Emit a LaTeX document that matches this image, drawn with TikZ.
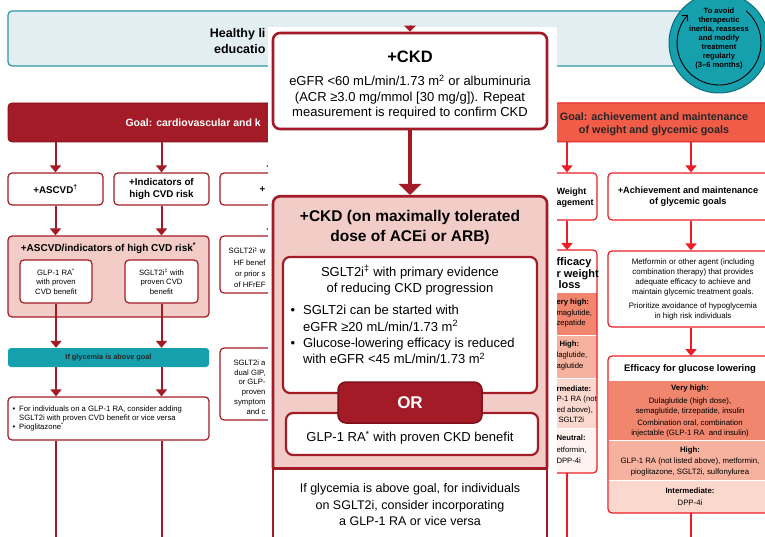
\documentclass[tikz,border=0pt]{standalone}
\usepackage{fontspec}
\setmainfont{Liberation Sans}
\usepackage{xcolor}
\usepackage{tikz}
\usetikzlibrary{arrows.meta}

\definecolor{adared}{RGB}{163,27,38}
\definecolor{adadeep}{RGB}{125,16,26}
\definecolor{adapink}{RGB}{242,205,199}
\definecolor{adateal}{RGB}{22,160,174}
\definecolor{adatealdark}{RGB}{12,110,122}
\definecolor{adaline}{RGB}{45,150,170}
\definecolor{adasky}{RGB}{226,238,241}
\definecolor{adacoral}{RGB}{240,92,72}
\definecolor{adascarlet}{RGB}{234,30,36}
\definecolor{effvhigh}{RGB}{240,134,110}
\definecolor{effhigh}{RGB}{246,178,158}
\definecolor{effmid}{RGB}{251,216,205}
\definecolor{effneutral}{RGB}{254,243,239}
\newcommand{\ptsize}[2]{\fontsize{#1}{#2}\selectfont}

\begin{document}
\begin{tikzpicture}[x=1pt,y=-1pt,
	backbox/.style={draw=adared, line width=1.2pt, rounded corners=4pt, fill=white, inner sep=0pt, align=center},
	pinkbox/.style={backbox, fill=adapink},
	scarletbox/.style={draw=adascarlet, line width=1.2pt, rounded corners=4pt, fill=white, inner sep=0pt, align=center},
	layer/.style={draw=white, line width=1pt, inner sep=0pt, outer sep=0pt},
	ckdbox/.style={draw=adared, line width=2.6pt, rounded corners=7pt, fill=white, inner sep=0pt},
	backarrow/.style={draw=adared, line width=2pt, -{Triangle[length=7pt,width=11pt]}},
	scarletarrow/.style={draw=adascarlet, line width=1.8pt, -{Triangle[length=7pt,width=11pt]}},
	ckdarrow/.style={draw=adared, line width=3.4pt, -{Triangle[length=11pt,width=22pt]}}]
	\path[use as bounding box, clip] (0,0) rectangle (765,537);
	\fill[white] (0,0) rectangle (765,537);

	\node[draw=adaline, line width=1.2pt, fill=adasky, rounded corners=4pt, minimum width=682, minimum height=55, inner sep=0pt] (lifestyle) at (349,38.5) {};
	\node[anchor=east, align=right, font=\ptsize{12.5}{16}\bfseries] (lifestyletxt) at (269,41.5) {Healthy li\\educatio};
	\node[circle, fill=adateal, draw=adatealdark, line width=1pt, minimum size=100, inner sep=0pt] (reassess) at (719,43) {};
	\draw[line width=0.9pt, -{Straight Barb[length=4pt,width=8pt]}] (reassess.center) ++(-50:42) arc[start angle=-50, end angle=222, radius=42];
	\node[align=center, font=\ptsize{7.6}{9}\bfseries] (reassesstxt) at (719,39) {To avoid\\therapeutic\\inertia, reassess\\and modify\\treatment\\regularly\\(3--6 months)};

	\node[fill=adared, draw=adadeep, line width=0.8pt, rounded corners=4pt, minimum width=292, minimum height=39, inner sep=0pt] (goalcv) at (154,122.5) {};
	\node[anchor=west, text=white, font=\ptsize{10.5}{12}\bfseries] (goalcvtxt) at (122,122.5) {Goal: cardiovascular and k};
	\node[backbox, minimum width=95, minimum height=32, font=\ptsize{9.8}{12}\bfseries] (ascvd) at (55.5,189) {+ASCVD\textsuperscript{†}};
	\node[backbox, minimum width=95, minimum height=32, font=\ptsize{9.8}{12}\bfseries] (cvdrisk) at (161.5,189) {+Indicators of\\high CVD risk};
	\node[backbox, minimum width=90, minimum height=32] (hfrow) at (265,189) {};
	\node[anchor=east, font=\ptsize{9.8}{12}\bfseries] (hfrowtxt) at (269,190) {+};
	\coordinate (hfcol) at (272,0);
	\draw[backarrow] (ascvd |- goalcv.south) -- (ascvd);
	\draw[backarrow] (cvdrisk |- goalcv.south) -- (cvdrisk);
	\draw[backarrow] (hfcol |- goalcv.south) -- (hfcol |- hfrow.north);

	\node[pinkbox, minimum width=201, minimum height=81] (ascvdrisk) at (108.5,276.5) {};
	\node[font=\ptsize{10}{12}\bfseries] (ascvdrisktxt) at (108.5,248) {+ASCVD/indicators of high CVD risk\textsuperscript{*}};
	\node[backbox, minimum width=72, minimum height=43, font=\ptsize{7.7}{9.5}] (glpcvd) at (56,281.5) {GLP-1 RA\textsuperscript{*}\\with proven\\CVD benefit};
	\node[backbox, minimum width=73, minimum height=43, font=\ptsize{7.7}{9.5}] (sgltcvd) at (161.5,281.5) {SGLT2i\textsuperscript{‡} with\\proven CVD\\benefit};
	\draw[backarrow] (ascvd) -- (ascvd |- ascvdrisk.north);
	\draw[backarrow] (cvdrisk) -- (cvdrisk |- ascvdrisk.north);
	\node[backbox, minimum width=90, minimum height=57] (hfbox) at (265,264.5) {};
	\node[anchor=east, align=right, font=\ptsize{7.7}{11.3}] (hfboxtxt) at (269,267.5) {SGLT2i\textsuperscript{‡} w\\HF benef\\or prior s\\of HFrEF};
	\draw[backarrow] (hfcol |- hfrow.south) -- (hfcol |- hfbox.north);

	\node[fill=adateal, rounded corners=3pt, inner sep=0pt, minimum width=201, minimum height=19, font=\ptsize{7.3}{8}\bfseries, text=black!85] (glycabove) at (108.5,357.5) {If glycemia is above goal};
	\draw[backarrow] (glpcvd) -- (glpcvd |- glycabove.north);
	\draw[backarrow] (sgltcvd) -- (sgltcvd |- glycabove.north);
	\node[backbox, minimum width=90, minimum height=72] (gipbox) at (265,384) {};
	\node[anchor=east, align=right, font=\ptsize{7.7}{9.8}] (gipboxtxt) at (269,387) {SGLT2i a\\dual GIP,\\or GLP-\\proven\\symptom\\and c};

	\node[backbox, minimum width=201, minimum height=43] (addon) at (108.5,418.5) {};
	\node[anchor=west, align=left, font=\ptsize{7.7}{9.2}] (addontxt) at (9,418.5) {\textbullet\hspace{4pt}For individuals on a GLP-1 RA, consider adding\\\hphantom{\textbullet\hspace{4pt}}SGLT2i with proven CVD benefit or vice versa\\\textbullet\hspace{4pt}Pioglitazone\textsuperscript{*}};
	\draw[backarrow] (glpcvd |- glycabove.south) -- (glpcvd |- addon.north);
	\draw[backarrow] (sgltcvd |- glycabove.south) -- (sgltcvd |- addon.north);
	\coordinate (pageend) at (0,545);
	\draw[adared, line width=2pt] (glpcvd |- addon.south) -- (glpcvd |- pageend);
	\draw[adared, line width=2pt] (sgltcvd |- addon.south) -- (sgltcvd |- pageend);

	\node[fill=adacoral, draw=adascarlet, line width=1pt, rounded corners=3pt, minimum width=230, minimum height=39, inner sep=0pt] (goalgly) at (670,122.5) {};
	\node[align=center, font=\ptsize{10.8}{13}\bfseries, text=black!85] (goalglytxt) at (654,124) {Goal: achievement and maintenance\\of weight and glycemic goals};
	\coordinate (weightcol) at (567,0);
	\coordinate (glycol) at (691,0);
	\node[scarletbox, minimum width=62, minimum height=47] (weightmgmt) at (566,196.5) {};
	\node[anchor=west, align=left, font=\ptsize{9}{11}\bfseries] (weightmgmttxt) at (553,197.5) {Weight\\agement};
	\node[scarletbox, minimum width=170, minimum height=47] (glycgoals) at (693,196.5) {};
	\node[align=center, font=\ptsize{9.2}{11.5}\bfseries] (glycgoalstxt) at (688,196.5) {+Achievement and maintenance\\of glycemic goals};
	\draw[scarletarrow] (weightcol |- goalgly.south) -- (weightcol |- weightmgmt.north);
	\draw[scarletarrow] (glycol |- goalgly.south) -- (glycol |- glycgoals.north);

	\node[layer, fill=white, minimum width=62, minimum height=42] (wlosshead) at (566,271) {};
	\node[layer, fill=effvhigh, minimum width=62, minimum height=43, anchor=north] (wlossvhigh) at (wlosshead.south) {};
	\node[layer, fill=effhigh, minimum width=62, minimum height=43, anchor=north] (wlosshigh) at (wlossvhigh.south) {};
	\node[layer, fill=effmid, minimum width=62, minimum height=50, anchor=north] (wlossmid) at (wlosshigh.south) {};
	\node[layer, fill=effneutral, minimum width=62, minimum height=45, anchor=north] (wlossneutral) at (wlossmid.south) {};
	\draw[adascarlet, line width=1.2pt, rounded corners=4pt] (wlosshead.north west) rectangle (wlossneutral.south east);
	\node[anchor=west, align=left, font=\ptsize{11}{11.5}\bfseries] (wlossheadtxt) at (553,273.5) {fficacy\\r weight\\\hspace{2pt}loss};
	\node[anchor=west, align=left, font=\ptsize{7.7}{10.5}] (wlossvhightxt) at (553,313.5) {\textbf{ery high:}\\maglutide,\\zepatide};
	\node[anchor=west, align=left, font=\ptsize{7.7}{11}] (wlosshightxt) at (553,356) {\hspace{3pt}\textbf{High:}\\laglutide,\\aglutide};
	\node[anchor=west, align=left, font=\ptsize{7.7}{10.5}] (wlossmidtxt) at (553,404) {\textbf{rmediate:}\\P-1 RA (not\\ed above),\\\hspace{2pt}SGLT2i};
	\node[anchor=west, align=left, font=\ptsize{7.7}{11.5}] (wlossneutraltxt) at (553,449.5) {\textbf{Neutral:}\\etformin,\\DPP-4i};
	\draw[scarletarrow] (weightcol |- weightmgmt.south) -- (weightcol |- wlosshead.north);
	\draw[adascarlet, line width=1.8pt] (weightcol |- wlossneutral.south) -- (weightcol |- pageend);

	\node[scarletbox, minimum width=170, minimum height=76, font=\ptsize{7.9}{10}] (glycagent) at (693,289) {Metformin or other agent (including\\combination therapy) that provides\\adequate efficacy to achieve and\\maintain glycemic treatment goals.\\[4pt]Prioritize avoidance of hypoglycemia\\in high risk individuals};
	\draw[scarletarrow] (glycol |- glycgoals.south) -- (glycol |- glycagent.north);
	\node[layer, fill=white, minimum width=170, minimum height=24] (gluchead) at (693,368) {};
	\node[layer, fill=effvhigh, minimum width=170, minimum height=60, anchor=north] (glucvhigh) at (gluchead.south) {};
	\node[layer, fill=effhigh, minimum width=170, minimum height=40, anchor=north] (gluchigh) at (glucvhigh.south) {};
	\node[layer, fill=effmid, minimum width=170, minimum height=33, anchor=north] (glucmid) at (gluchigh.south) {};
	\draw[adascarlet, line width=1.2pt, rounded corners=4pt] (gluchead.north west) rectangle (glucmid.south east);
	\node[font=\ptsize{9.5}{11}\bfseries] (glucheadtxt) at (690,369) {Efficacy for glucose lowering};
	\node[align=center, font=\ptsize{7.8}{10}] (glucvhightxt) at (690,411) {\textbf{Very high:}\\[3pt]Dulaglutide (high dose),\\semaglutide, tirzepatide, insulin\\[2pt]Combination oral, combination\\injectable (GLP-1 RA\ \ and insulin)};
	\node[align=center, font=\ptsize{7.8}{11}] (gluchightxt) at (690,461) {\textbf{High:}\\GLP-1 RA (not listed above), metformin,\\pioglitazone, SGLT2i, sulfonylurea};
	\node[align=center, font=\ptsize{7.8}{12.5}] (glucmidtxt) at (690,496.5) {\textbf{Intermediate:}\\DPP-4i};
	\draw[scarletarrow] (glycol |- glycagent.south) -- (glycol |- gluchead.north);
	\draw[adascarlet, line width=1.8pt] (glycol |- glucmid.south) -- (glycol |- pageend);

	\node[fill=white, inner sep=0pt, minimum width=289, minimum height=520, anchor=north west] (ckdpanel) at (268,27) {};
	\node[ckdbox, minimum width=274, minimum height=96] (ckd) at (410,81) {};
	\coordinate (ckdtip) at (410,27);
	\draw[adared, line width=0pt, -{Triangle[length=6pt,width=12pt]}] (ckdtip) -- (ckd.north);
	\node[font=\ptsize{16.5}{18}\bfseries] (ckdtitle) at (410,57) {+CKD};
	\node[align=center, font=\ptsize{13}{15.5}] (ckdtxt) at (410,97) {eGFR <60 mL/min/1.73 m\textsuperscript{2} or albuminuria\\(ACR ≥3.0 mg/mmol [30 mg/g]). Repeat\\measurement is required to confirm CKD};
	\node[ckdbox, fill=adapink, minimum width=274, minimum height=278, anchor=north] (acei) at (410,195) {};
	\draw[ckdarrow] (ckd) -- (acei);
	\node[align=center, font=\ptsize{15.5}{20}\bfseries] (aceititle) at (410,227) {+CKD (on maximally tolerated\\dose of ACEi or ARB)};
	\node[draw=adared, line width=2.6pt, fill=white, inner sep=0pt, minimum width=274, minimum height=90, anchor=north] (glycckd) at (410,467) {};
	\node[align=center, font=\ptsize{12.5}{16.5}] (glycckdtxt) at (410,505) {If glycemia is above goal, for individuals\\on SGLT2i, consider incorporating\\a GLP-1 RA or vice versa};

	\node[ckdbox, line width=2.2pt, minimum width=254, minimum height=136] (sglt) at (410,325) {};
	\node[align=center, font=\ptsize{13}{16}] (sglttitle) at (410,280) {SGLT2i\textsuperscript{‡} with primary evidence\\of reducing CKD progression};
	\node[anchor=north west, align=left, font=\ptsize{13}{16.3}] (sgltlist) at (287,302) {\textbullet\hspace{8pt}SGLT2i can be started with\\\hphantom{\textbullet\hspace{8pt}}eGFR ≥20 mL/min/1.73 m\textsuperscript{2}\\\textbullet\hspace{8pt}Glucose-lowering efficacy is reduced\\\hphantom{\textbullet\hspace{8pt}}with eGFR <45 mL/min/1.73 m\textsuperscript{2}};
	\node[ckdbox, line width=2.2pt, minimum width=252, minimum height=42] (glpckd) at (412,434) {};
	\node[font=\ptsize{13}{16}] (glpckdtxt) at (410,438) {GLP-1 RA\textsuperscript{*} with proven CKD benefit};
	\node[draw=adadeep, line width=1.5pt, fill=adared, rounded corners=8pt, minimum width=144, minimum height=41, inner sep=0pt, text=white, font=\ptsize{17}{20}\bfseries] (orbadge) at (410,402.5) {OR};
\end{tikzpicture}
\end{document}
